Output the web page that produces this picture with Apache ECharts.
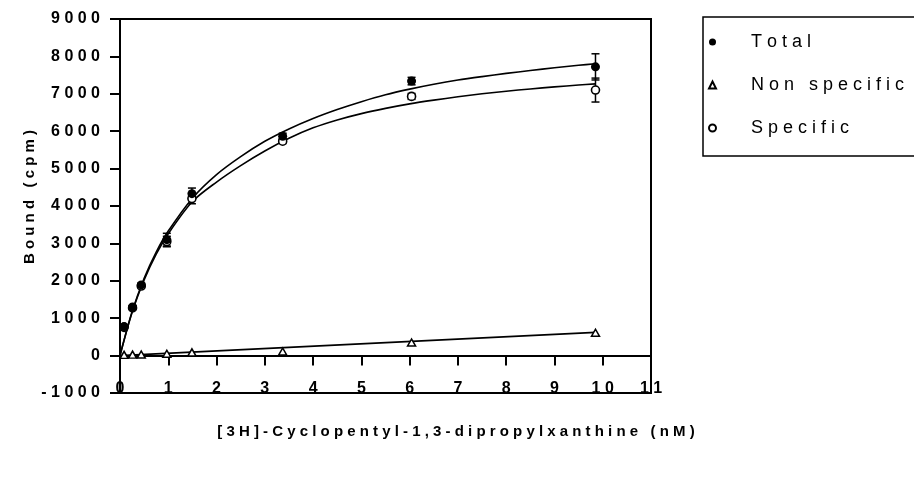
<!DOCTYPE html>
<html>
<head>
<meta charset="utf-8">
<script src="https://cdn.jsdelivr.net/npm/echarts@6/dist/echarts.min.js"></script>
<style>
html,body{margin:0;padding:0;background:#fff;}
#c{width:914px;height:485px;}
</style>
</head>
<body>
<div id="c"></div>
<script>
// ---- data ----
const conc      = [0.085, 0.26, 0.44, 0.97, 1.49, 3.37, 6.04, 9.85];
const totalMean = [775, 1300, 1890, 3100, 4330, 5866, 7340, 7720];
const totalErr  = [30, 40, 50, 170, 150, 80, 100, 350];
const specMean  = [755, 1275, 1860, 3050, 4200, 5733, 6930, 7100];
const specErr   = [30, 40, 50, 140, 140, 60, 80, 320];
const nsMean    = [20, 25, 30, 50, 85, 110, 350, 610];

// fitted curves
const curveX     = [0, 0.25, 0.5, 0.75, 1, 1.5, 2, 2.5, 3, 3.5, 4, 4.5, 5, 5.5, 6, 6.5, 7, 7.5, 8, 8.5, 9, 9.5, 9.85];
const totalCurve = [0, 1170, 2070, 2770, 3330, 4210, 4840, 5320, 5730, 6060, 6340, 6580, 6790, 6975, 7125, 7255, 7367, 7460, 7545, 7622, 7695, 7762, 7805];
const specCurve  = [0, 1150, 2020, 2710, 3260, 4120, 4640, 5080, 5470, 5810, 6090, 6300, 6470, 6610, 6730, 6830, 6920, 7000, 7070, 7130, 7185, 7235, 7265];
const nsLineX    = [0, 9.85];
const nsLineY    = [0, 620];

const xTicks = [0,1,2,3,4,5,6,7,8,9,10,11];
const yTicks = [-1000,0,1000,2000,3000,4000,5000,6000,7000,8000,9000];
const legendNames = ['Total', 'Non specific', 'Specific'];
const xTitle = '[3H]-Cyclopentyl-1,3-dipropylxanthine (nM)';
const yTitle = 'Bound (cpm)';

// ---- helpers ----
const FONT = 'Liberation Sans, Arial, sans-serif';
const sp = s => String(s).split('').join(' ');
const zip = (a, b) => a.map((v, i) => [v, b[i]]);
const errData = (m, e) => conc.map((x, i) => [x, m[i] - e[i], m[i] + e[i]]);

function errRender(params, api) {
  const x = api.value(0), lo = api.value(1), hi = api.value(2);
  const a = api.coord([x, hi]), b = api.coord([x, lo]);
  const w = 4;
  const st = {stroke: '#000', lineWidth: 1.5};
  return {type: 'group', children: [
    {type: 'line', shape: {x1: a[0], y1: a[1], x2: b[0], y2: b[1]}, style: st},
    {type: 'line', shape: {x1: a[0]-w, y1: a[1], x2: a[0]+w, y2: a[1]}, style: st},
    {type: 'line', shape: {x1: b[0]-w, y1: b[1], x2: b[0]+w, y2: b[1]}, style: st}
  ]};
}

const chart = echarts.init(document.getElementById('c'), null, {renderer: 'canvas'});
const curveStyle = {color: '#000', width: 1.6};

chart.setOption({
  animation: false,
  backgroundColor: '#fff',
  textStyle: {fontFamily: FONT},
  grid: {left: 120, top: 19, right: 263, bottom: 92, show: true, borderColor: '#000', borderWidth: 2, backgroundColor: 'transparent'},
  xAxis: {
    type: 'value', min: xTicks[0], max: xTicks[xTicks.length-1], interval: 1,
    axisLine: {onZero: true, lineStyle: {color: '#000', width: 2}},
    axisTick: {show: true, inside: false, length: 10, lineStyle: {color: '#000', width: 2}},
    axisLabel: {margin: -12, color: '#000', fontWeight: 'bold', fontSize: 16, fontFamily: FONT, formatter: v => sp(v)},
    splitLine: {show: false}
  },
  yAxis: {
    type: 'value', min: yTicks[0], max: yTicks[yTicks.length-1], interval: 1000,
    axisLine: {show: true, lineStyle: {color: '#000', width: 2}},
    axisTick: {show: true, inside: false, length: 10, lineStyle: {color: '#000', width: 2}},
    axisLabel: {margin: 20, color: '#000', fontWeight: 'bold', fontSize: 16, fontFamily: FONT, formatter: v => sp(v)},
    splitLine: {show: false}
  },
  legend: {
    orient: 'vertical', left: 703, top: 17,
    padding: [16, 40, 19, 5],
    itemGap: 25, itemWidth: 7, itemHeight: 7,
    borderColor: '#000', borderWidth: 1.5, borderRadius: 0,
    data: legendNames,
    formatter: n => '      ' + sp(n),
    textStyle: {color: '#000', fontSize: 18, lineHeight: 18, fontFamily: FONT}
  },
  graphic: [
    {type: 'text', x: 30, y: 197, rotation: Math.PI/2,
     style: {text: sp(yTitle), font: 'bold 15px ' + FONT, fill: '#000', align: 'center', verticalAlign: 'middle'}},
    {type: 'text', x: 456, y: 432,
     style: {text: sp(xTitle), font: 'bold 15px ' + FONT, fill: '#000', align: 'center', verticalAlign: 'middle'}}
  ],
  series: [
    {name: 'nsFit', type: 'line', data: zip(nsLineX, nsLineY), showSymbol: false, lineStyle: curveStyle, silent: true, z: 2},
    {name: 'specFit', type: 'line', data: zip(curveX, specCurve), smooth: 0.3, showSymbol: false, lineStyle: curveStyle, silent: true, z: 2},
    {name: 'totalFit', type: 'line', data: zip(curveX, totalCurve), smooth: 0.3, showSymbol: false, lineStyle: curveStyle, silent: true, z: 2},
    {name: 'specErr', type: 'custom', renderItem: errRender, data: errData(specMean, specErr), z: 3, silent: true},
    {name: 'totalErr', type: 'custom', renderItem: errRender, data: errData(totalMean, totalErr), z: 3, silent: true},
    {name: 'Non specific', type: 'scatter', data: zip(conc, nsMean), symbol: 'triangle', symbolSize: [8, 7],
     itemStyle: {color: '#fff', borderColor: '#000', borderWidth: 1.5, opacity: 1}, z: 4},
    {name: 'Specific', type: 'scatter', data: zip(conc, specMean), symbol: 'circle', symbolSize: 8,
     itemStyle: {color: '#fff', borderColor: '#000', borderWidth: 1.6, opacity: 1}, z: 4},
    {name: 'Total', type: 'scatter', data: zip(conc, totalMean), symbol: 'circle', symbolSize: 9,
     itemStyle: {color: '#000', borderColor: '#000', borderWidth: 0, opacity: 1}, z: 5}
  ]
});
</script>
</body>
</html>
